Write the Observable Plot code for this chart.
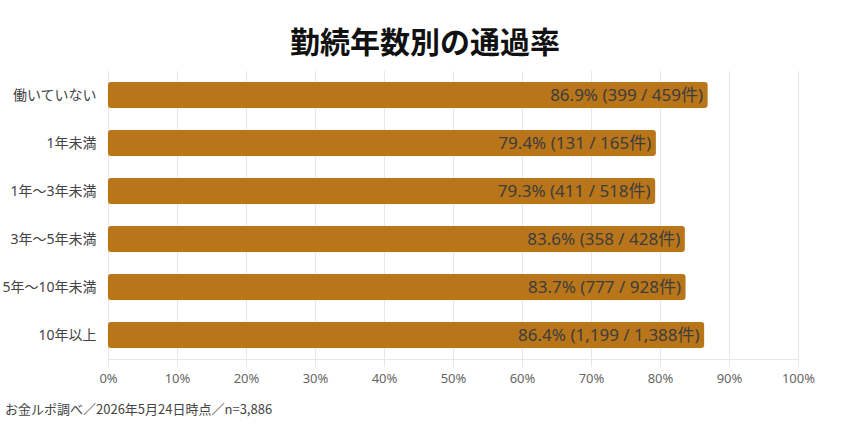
<!DOCTYPE html>
<html>
<head>
<meta charset="utf-8">
<script src="https://cdn.jsdelivr.net/npm/d3@7"></script>
<script src="https://cdn.jsdelivr.net/npm/@observablehq/plot@0.6"></script>
<style>
  html, body { margin: 0; padding: 0; background: #fff; }
  body { width: 850px; height: 440px; overflow: hidden; font-family: "Noto Sans", "Noto Sans CJK JP", sans-serif; }
  #title { height: 34px; padding-top: 25px; line-height: 1; font-size: 30px; font-weight: 700; text-align: center; color: #111; font-family: "Noto Sans CJK JP", sans-serif; }
  #caption { font-size: 13px; color: #444; padding-left: 5px; margin-top: 3px; line-height: 1; font-family: "Noto Sans CJK JP", sans-serif; }
  svg { display: block; }
</style>
</head>
<body>
<div id="title">勤続年数別の通過率</div>
<div id="chart"></div>
<div id="caption">お金ルポ調べ／2026年5月24日時点／n=3,886</div>
<script>
const categories = ["働いていない", "1年未満", "1年〜3年未満", "3年〜5年未満", "5年〜10年未満", "10年以上"];
const rates = [86.9, 79.4, 79.3, 83.6, 83.7, 86.4];
const passed = [399, 131, 411, 358, 777, 1199];
const totals = [459, 165, 518, 428, 928, 1388];
const xTicks = [0, 10, 20, 30, 40, 50, 60, 70, 80, 90, 100];

const data = categories.map((c, i) => ({
  category: c,
  rate: rates[i],
  label: `${rates[i].toFixed(1)}% (${passed[i].toLocaleString("en-US")} / ${totals[i].toLocaleString("en-US")}件)`
}));

const chart = Plot.plot({
  width: 850,
  height: 340,
  marginTop: 12,
  marginBottom: 40,
  marginLeft: 108,
  marginRight: 52,
  style: { fontFamily: '"Noto Sans", "Noto Sans CJK JP", sans-serif', background: "#fff" },
  x: { domain: [0, 100] },
  y: { domain: categories, padding: 0.45, paddingOuter: 0.225 },
  marks: [
    Plot.gridX(xTicks, { stroke: "#e6e6e6", strokeOpacity: 1 }),
    Plot.frame({ anchor: "bottom", stroke: "#e6e6e6" }),
    Plot.axisX({ ticks: xTicks, tickFormat: d => d + "%", tickSize: 8, tickPadding: 6, stroke: "#e6e6e6", fill: "#666", fontSize: 13, label: null }),
    Plot.axisY({ tickSize: 0, tickPadding: 12, fill: "#444", fontSize: 14, label: null }),
    Plot.barX(data, { x: "rate", y: "category", fill: "#B87519", rx: 3 }),
    Plot.text(data, { x: "rate", y: "category", text: "label", textAnchor: "end", dx: -5, fill: "#3d3d3d", fontSize: 17 })
  ]
});
document.getElementById("chart").appendChild(chart);
</script>
</body>
</html>
